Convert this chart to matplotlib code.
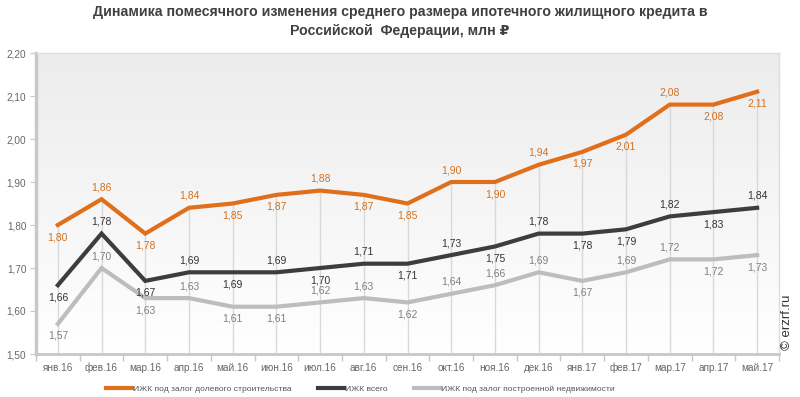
import matplotlib
matplotlib.use("Agg")
import matplotlib.pyplot as plt
import numpy as np
from matplotlib.colors import LinearSegmentedColormap
from matplotlib.lines import Line2D

plt.rcParams['font.family'] = ['Liberation Sans', 'DejaVu Sans']

months = ["янв.16", "фев.16", "мар.16", "апр.16", "май.16", "июн.16", "июл.16", "авг.16",
          "сен.16", "окт.16", "ноя.16", "дек.16", "янв.17", "фев.17", "мар.17", "апр.17", "май.17"]
shared = [1.80, 1.86, 1.78, 1.84, 1.85, 1.87, 1.88, 1.87, 1.85, 1.90, 1.90, 1.94, 1.97, 2.01, 2.08, 2.08, 2.11]
total = [1.66, 1.78, 1.67, 1.69, 1.69, 1.69, 1.70, 1.71, 1.71, 1.73, 1.75, 1.78, 1.78, 1.79, 1.82, 1.83, 1.84]
built = [1.57, 1.70, 1.63, 1.63, 1.61, 1.61, 1.62, 1.63, 1.62, 1.64, 1.66, 1.69, 1.67, 1.69, 1.72, 1.72, 1.73]
series_names = ["ИЖК под залог долевого строительства", "ИЖК всего", "ИЖК под залог построенной недвижимости"]
yticks = [1.50, 1.60, 1.70, 1.80, 1.90, 2.00, 2.10, 2.20]

# label placement: +1 above, -1 below
pos_shared = [-1, 1, -1, 1, -1, -1, 1, -1, -1, 1, -1, 1, -1, -1, 1, -1, -1]
pos_total = [-1, 1, -1, 1, -1, 1, -1, 1, -1, 1, -1, 1, -1, -1, 1, -1, 1]
pos_built = [-1, 1, -1, 1, -1, -1, 1, 1, -1, 1, 1, 1, -1, 1, 1, -1, -1]

c_or, c_dk, c_gr = "#e06f1c", "#3d3d3d", "#bdbdbd"
t_or, t_dk, t_gr = "#d2711f", "#333333", "#7f7f7f"

fig = plt.figure(figsize=(8, 3.97), dpi=100)
ax = fig.add_axes([36/800, (397-354)/397, (779-36)/800, (354-53)/397])

x = np.arange(len(months))
ax.set_xlim(-0.5, len(months)-0.5)
ax.set_ylim(1.50, 2.20)

# gradient background
cmap = LinearSegmentedColormap.from_list("bg", ["#ffffff", "#ececec"])
grad = np.linspace(0, 1, 256).reshape(-1, 1)
ax.imshow(grad, aspect="auto", cmap=cmap, extent=[-0.5, len(months)-0.5, 2.20, 1.50],
          origin="upper", zorder=0)

# drop lines
ax.vlines(x, 1.50, shared, color="#d9d9d9", lw=1, zorder=1)

ax.plot(x, built, color=c_gr, lw=3, zorder=3, solid_joinstyle="miter")
ax.plot(x, total, color=c_dk, lw=3, zorder=4, solid_joinstyle="miter")
ax.plot(x, shared, color=c_or, lw=3, zorder=5, solid_joinstyle="miter")

def labels(vals, pos, col):
    for xi, v, p in zip(x, vals, pos):
        ax.annotate(f"{v:.2f}".replace(".", ","), (xi, v), xytext=(0, 12*p),
                    textcoords="offset pixels", ha="center", va="center",
                    fontsize=7.5, color=col, zorder=6)

labels(shared, pos_shared, t_or)
labels(total, pos_total, t_dk)
labels(built, pos_built, t_gr)

ax.set_yticks(yticks)
ax.set_yticklabels([f"{v:.2f}".replace(".", ",") for v in yticks])
ax.set_xticks(x)
ax.set_xticklabels(months, va="baseline")
ax.set_xticks(np.arange(-0.5, len(months)), minor=True)
ax.tick_params(axis="x", which="major", length=0, pad=12, labelsize=7.2, labelcolor="#666666")
ax.tick_params(axis="x", which="minor", length=5, color="#c8c8c8", width=1)
ax.tick_params(axis="y", length=4, color="#c8c8c8", labelsize=7.2, labelcolor="#666666", pad=3)

for s in ["top", "right"]:
    ax.spines[s].set_color("#dddddd")
    ax.spines[s].set_linewidth(1)
ax.spines["left"].set_color("#c8c8c8")
ax.spines["left"].set_linewidth(2.5)
ax.spines["bottom"].set_color("#c8c8c8")
ax.spines["bottom"].set_linewidth(2)

fig.text(0.5, 1-12/397, "Динамика помесячного изменения среднего размера ипотечного жилищного кредита в",
         ha="center", va="center", fontsize=10.2, fontweight="bold", color="#404040")
fig.text(0.5, 1-31/397, "Российской  Федерации, млн ₽",
         ha="center", va="center", fontsize=10.2, fontweight="bold", color="#404040")

fig.text(787/800, 1-322/397, "© erzrf.ru", rotation=90, ha="center", va="center",
         fontsize=9.5, color="#333333")

handles = [Line2D([], [], color=c, lw=3) for c in (c_or, c_dk, c_gr)]
fig.legend(handles, series_names, loc="center", bbox_to_anchor=(360/800, 1-389/397), ncol=3,
           frameon=False, fontsize=6.1, labelcolor="#555555", handlelength=3.1,
           handletextpad=0.1, columnspacing=3.1)

fig.savefig("out.png", dpi=100)
